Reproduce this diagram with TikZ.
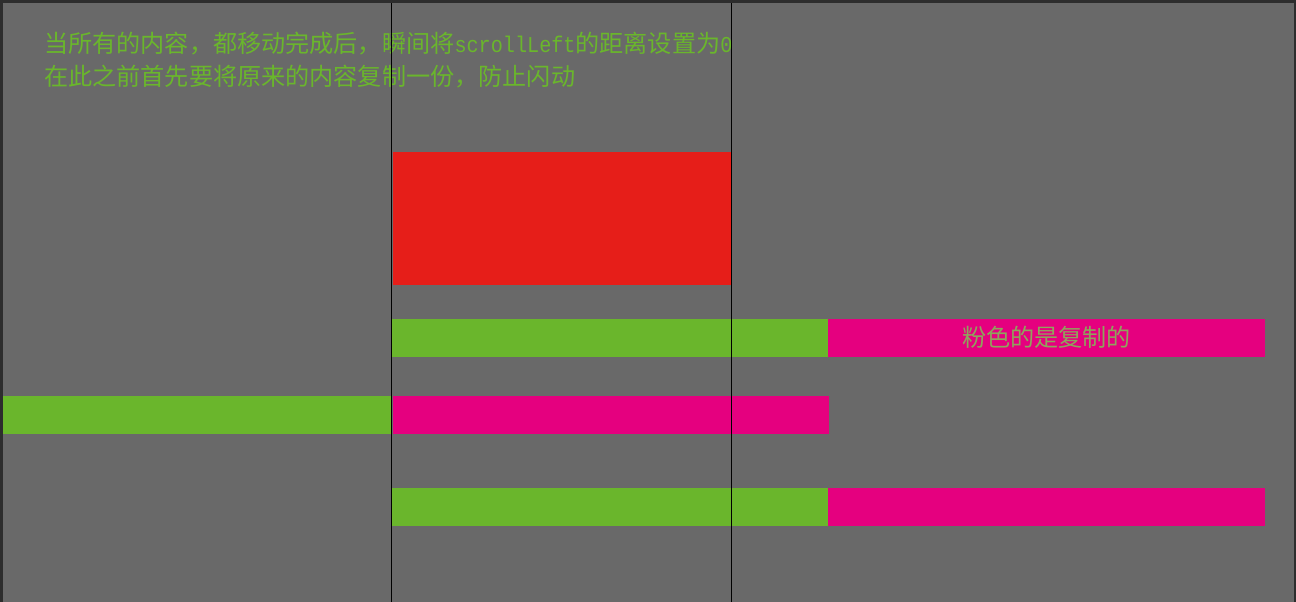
\documentclass[tikz,border=0pt]{standalone}
\usepackage{fontspec}
\usepackage{graphicx}
\setmainfont{Noto Sans CJK SC}
\newfontfamily\cjk{Noto Sans CJK SC}
\newfontfamily\monof{Liberation Mono}
\newcommand{\monotxt}[1]{\scalebox{0.89}[1]{\monof\fontsize{17pt}{20pt}\selectfont #1}}
\definecolor{bg}{HTML}{696969}
\definecolor{frame}{HTML}{2D2D2D}
\definecolor{grn}{HTML}{6AB62C}
\definecolor{pnk}{HTML}{E5007F}
\definecolor{rd}{HTML}{E61E19}
\definecolor{lbl}{HTML}{8FA45C}
\begin{document}
\begin{tikzpicture}[x=0.75pt,y=-0.75pt,
  txt/.style={inner sep=0pt,anchor=base west,text=grn,font=\cjk\fontsize{18.1pt}{24pt}\selectfont},
  guide/.style={draw=black,line width=0.75pt}]
\useasboundingbox (0,0) rectangle (1296,602);
\fill[frame] (0,0) rectangle (1296,602);
\fill[bg] (3,3) rectangle (1294,602);
% red block
\fill[rd] (393,152) rectangle (731,285);
% row 1
\fill[grn] (392,319) rectangle (828,357);
\fill[pnk] (828,319) rectangle (1265,357);
% row 2
\fill[grn] (3,396) rectangle (391,434);
\fill[pnk] (393,396) rectangle (829,434);
% row 3
\fill[grn] (392,488) rectangle (828,526);
\fill[pnk] (828,488) rectangle (1265,526);
% texts
\node[txt] (t1) at (44,53) {当所有的内容，都移动完成后，瞬间将\monotxt{scrollLeft}的距离设置为\monotxt{0}};
\node[txt] (t2) at (44,86) {在此之前首先要将原来的内容复制一份，防止闪动};
\node[txt,anchor=base,text=lbl] (lab) at (1046.5,347) {粉色的是复制的};
% guide lines
\coordinate (g1t) at (391.5,3);
\coordinate (g1b) at (391.5,602);
\coordinate (g2t) at (731.5,3);
\coordinate (g2b) at (731.5,602);
\draw[guide] (g1t) -- (g1b);
\draw[guide] (g2t) -- (g2b);
\end{tikzpicture}
\end{document}
